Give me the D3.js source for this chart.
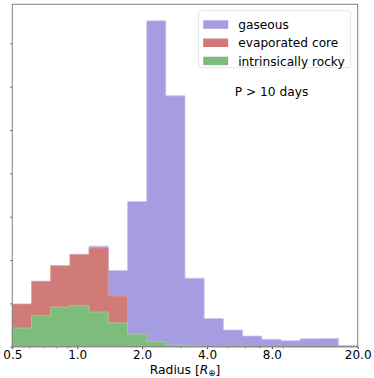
<!DOCTYPE html>
<html>
<head>
<meta charset="utf-8">
<script src="https://cdn.jsdelivr.net/npm/d3@7"></script>
<style>
  body { margin: 0; background: #fff; }
  text { font-family: "DejaVu Sans", sans-serif; fill: #000; }
</style>
</head>
<body>
<svg id="chart" width="374" height="378"></svg>
<script>
// bin edges (log spaced, 0.5 .. 20 R_earth)
var binEdges = [0.5, 0.614, 0.753, 0.925, 1.135, 1.393, 1.710, 2.099, 2.577, 3.163,
    3.883, 4.766, 5.851, 7.182, 8.816, 10.821, 13.283, 16.306, 20.0];

var seriesNames = ["gaseous", "evaporated core", "intrinsically rocky"];
var seriesColors = ["#a69de1", "#d17b79", "#7dbc7a"];
var seriesEdge = ["#cdc7f2", "#dc9c9a", "#a2d09f"];

var gaseous = [0.0, 0.0, 0.0, 0.0, 2.32, 1.76, 3.35, 7.52, 5.79, 1.58,
    0.65, 0.385, 0.246, 0.17, 0.14, 0.185, 0.19, 0.03];
var evaporated = [0.985, 1.51, 1.87, 2.13, 2.28, 1.17, 0.0, 0.0, 0.0, 0.0,
    0, 0, 0, 0, 0, 0, 0, 0];
var rocky = [0.43, 0.715, 0.915, 0.946, 0.80, 0.55, 0.29, 0.115, 0.04, 0.015,
    0, 0, 0, 0, 0, 0, 0, 0];

var xTickValues = [0.5, 1.0, 2.0, 4.0, 8.0, 20.0];
var xMinorTicks = [0.6, 0.7, 0.8, 0.9, 3, 5, 6, 7, 9];
var yTickValues = [0, 1, 2, 3, 4, 5, 6, 7];

var svg = d3.select("#chart"),
    margin = {top: 4.3, right: 16.3, bottom: 31.3, left: 12.3},
    width = +svg.attr("width") - margin.left - margin.right,
    height = +svg.attr("height") - margin.top - margin.bottom,
    g = svg.append("g").attr("transform", "translate(" + margin.left + "," + margin.top + ")");

var x = d3.scaleLog()
    .domain([0.5, 20])
    .range([0, width]);

var y = d3.scaleLinear()
    .domain([0, 7.9])
    .range([height, 0]);

var area = d3.area()
    .curve(d3.curveStepAfter)
    .x(function (d) { return x(d[0]); })
    .y0(height)
    .y1(function (d) { return y(d[1]); });

function stepData(values) {
    var pts = values.map(function (v, i) { return [binEdges[i], v]; });
    pts.push([binEdges[binEdges.length - 1], values[values.length - 1]]);
    return pts;
}

[gaseous, evaporated, rocky].forEach(function (vals, i) {
    g.append("path")
        .datum(stepData(vals))
        .attr("fill", seriesColors[i])
        .attr("stroke", seriesEdge[i])
        .attr("stroke-width", 0.8)
        .attr("d", area);
});

// x axis
var xAxis = g.append("g")
    .attr("transform", "translate(0," + height + ")")
    .call(d3.axisBottom(x)
        .tickValues(xTickValues)
        .tickFormat(d3.format(".1f"))
        .tickSizeInner(2.5)
        .tickSizeOuter(0)
        .tickPadding(1));
xAxis.select(".domain").remove();
xAxis.selectAll("line").attr("stroke", "#555");
xAxis.selectAll("text").style("font-size", "12px");

var xMinor = g.append("g")
    .attr("transform", "translate(0," + height + ")")
    .call(d3.axisBottom(x)
        .tickValues(xMinorTicks)
        .tickFormat("")
        .tickSizeInner(1.5)
        .tickSizeOuter(0));
xMinor.select(".domain").remove();
xMinor.selectAll("line").attr("stroke", "#777");

// y axis (ticks only, no labels)
var yAxis = g.append("g")
    .call(d3.axisLeft(y)
        .tickValues(yTickValues)
        .tickFormat("")
        .tickSizeInner(2)
        .tickSizeOuter(0));
yAxis.select(".domain").remove();
yAxis.selectAll("line").attr("stroke", "#555");

// frame
g.append("rect")
    .attr("width", width)
    .attr("height", height)
    .attr("fill", "none")
    .attr("stroke", "#808080")
    .attr("stroke-width", 1);

// axis label
var xl = g.append("text")
    .attr("x", width / 2)
    .attr("y", height + 27)
    .attr("text-anchor", "middle")
    .style("font-size", "12.3px");
xl.append("tspan").text("Radius [");
xl.append("tspan").style("font-style", "italic").text("R");
xl.append("tspan").attr("dy", 2.5).style("font-size", "8.5px").text("\u2295");
xl.append("tspan").attr("dy", -2.5).text("]");

// legend
var legend = g.append("g").attr("transform", "translate(186.4,6.4)");
legend.append("rect")
    .attr("width", 152)
    .attr("height", 57)
    .attr("rx", 2)
    .attr("fill", "#fff")
    .attr("fill-opacity", 0.8)
    .attr("stroke", "#dcdcdc")
    .attr("stroke-width", 0.8);

seriesNames.forEach(function (name, i) {
    var row = legend.append("g").attr("transform", "translate(0," + (9.6 + i * 18.2) + ")");
    row.append("rect")
        .attr("x", 4.5)
        .attr("width", 25)
        .attr("height", 8.5)
        .attr("fill", seriesColors[i]);
    row.append("text")
        .attr("x", 39.5)
        .attr("y", 8.8)
        .style("font-size", "12.2px")
        .text(name);
});

g.append("text")
    .attr("x", 222.5)
    .attr("y", 91.8)
    .style("font-size", "12.2px")
    .text("P > 10 days");
</script>
</body>
</html>
